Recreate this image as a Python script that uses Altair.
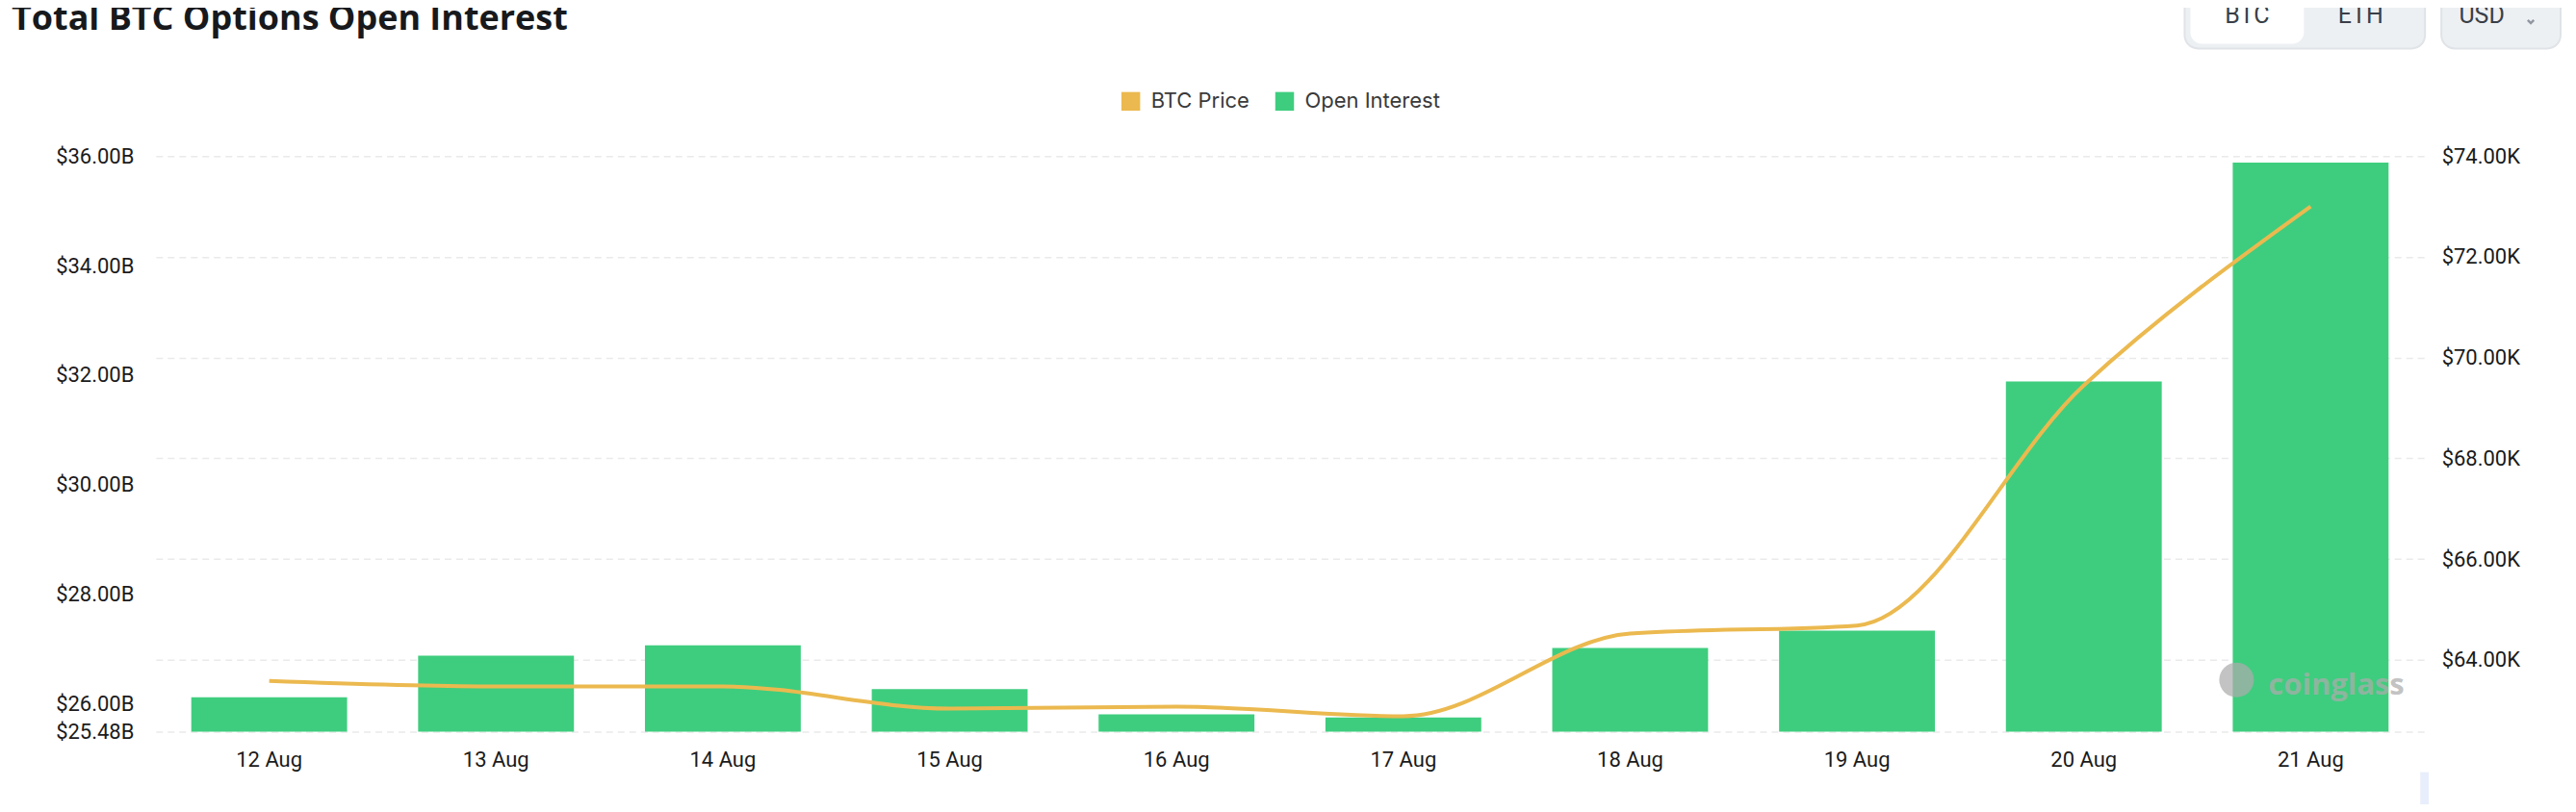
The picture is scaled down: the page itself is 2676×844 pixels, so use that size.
import altair as alt
import pandas as pd

# ---- data ----
dates = ["12 Aug", "13 Aug", "14 Aug", "15 Aug", "16 Aug",
         "17 Aug", "18 Aug", "19 Aug", "20 Aug", "21 Aug"]
open_interest_b = [26.11, 26.87, 27.06, 26.26, 25.80, 25.74, 27.01, 27.33, 31.88, 35.88]
btc_price_k = [63.58, 63.47, 63.47, 63.03, 63.07, 62.88, 64.52, 64.68, 69.45, 73.00]
oi_ticks = [25.48, 26, 28, 30, 32, 34, 36]
price_ticks = [62.57, 64, 66, 68, 70, 72, 74]
series_names = ["BTC Price", "Open Interest"]
title_text = ["Total BTC Options Open Interest"]

GREEN = "#3ECD7E"
ORANGE = "#EBB94F"
TEXT = "#1b1b1b"

df = pd.DataFrame({"date": dates, "oi": open_interest_b, "price": btc_price_k})

x_enc = alt.X(
    "date:N", sort=dates, title=None,
    scale=alt.Scale(paddingInner=0.313, paddingOuter=0.1565),
    axis=alt.Axis(labelAngle=0, domain=False, ticks=False, labelFontSize=22,
                  labelPadding=19, labelColor=TEXT, labelFont="Roboto"),
)

bars = alt.Chart(df).transform_calculate(series="'Open Interest'").mark_bar(color=GREEN).encode(
    x=x_enc,
    y=alt.Y("oi:Q",
            scale=alt.Scale(domain=[oi_ticks[0], oi_ticks[-1]], zero=False, nice=False),
            axis=alt.Axis(values=oi_ticks, labelExpr="'$' + format(datum.value, '.2f') + 'B'",
                          grid=False, domain=False, ticks=False, title=None,
                          labelFontSize=22, labelPadding=23, labelColor=TEXT,
                          labelFont="Roboto", labelOverlap=False)),
    y2=alt.datum(oi_ticks[0]),
    color=alt.Color("series:N",
                    scale=alt.Scale(domain=series_names, range=[ORANGE, GREEN]),
                    legend=alt.Legend(title=None, orient="none", legendX=1003, legendY=-68,
                                      direction="horizontal", symbolType="square",
                                      symbolSize=380, symbolStrokeWidth=0,
                                      labelFontSize=22, labelFont="Inter",
                                      labelColor="#3a3a3a", labelOffset=10,
                                      columnPadding=25, padding=0)),
)

line = alt.Chart(df).mark_line(color=ORANGE, strokeWidth=4, interpolate="monotone").encode(
    x=x_enc,
    y=alt.Y("price:Q",
            scale=alt.Scale(domain=[price_ticks[0], price_ticks[-1]], zero=False, nice=False),
            axis=alt.Axis(orient="right", values=price_ticks,
                          labelExpr="datum.value < 63 ? '' : '$' + format(datum.value, '.2f') + 'K'",
                          grid=True, gridColor="#EAEAEA", gridDash=[7, 5], gridWidth=1.5,
                          domain=False, ticks=False, title=None,
                          labelFontSize=22, labelPadding=18, labelColor=TEXT,
                          labelFont="Roboto", labelOverlap=False)),
)

one = pd.DataFrame({"t": title_text})

title = alt.Chart(one).mark_text(
    align="left", baseline="alphabetic", font="Open Sans", fontWeight="bold",
    fontSize=36, color="#17191c"
).encode(text="t:N", x=alt.value(-150), y=alt.value(-131))

# top-right UI controls
seg_bg = alt.Chart(one).mark_rect(fill="#EDF0F3", stroke="#E0E3E7", strokeWidth=2,
                                  cornerRadius=14).encode(
    x=alt.value(2110), x2=alt.value(2360), y=alt.value(-190), y2=alt.value(-112))
seg_btc = alt.Chart(one).mark_rect(fill="#FFFFFF", cornerRadius=12).encode(
    x=alt.value(2116), x2=alt.value(2234), y=alt.value(-190), y2=alt.value(-117))
usd_bg = alt.Chart(one).mark_rect(fill="#EDF0F3", stroke="#E0E3E7", strokeWidth=2,
                                  cornerRadius=14).encode(
    x=alt.value(2377), x2=alt.value(2501), y=alt.value(-190), y2=alt.value(-112))

def button_text(label, xpos):
    return alt.Chart(pd.DataFrame({"t": [label]})).mark_text(
        font="Roboto", fontSize=25, color="#3a3f47", align="center", baseline="alphabetic"
    ).encode(text="t:N", x=alt.value(xpos), y=alt.value(-138))

btc_txt = button_text("BTC", 2175)
eth_txt = button_text("ETH", 2293)
usd_txt = button_text("USD", 2419)

chev_up = alt.Chart(one).mark_point(shape="M-1,0.5L0,-0.5L1,0.5", filled=False,
                                    color="#6b7280", strokeWidth=2.5, size=40).encode(
    x=alt.value(2470), y=alt.value(-158))
chev_dn = alt.Chart(one).mark_point(shape="M-1,-0.5L0,0.5L1,-0.5", filled=False,
                                    color="#6b7280", strokeWidth=2.5, size=40).encode(
    x=alt.value(2470), y=alt.value(-140))

watermark = alt.Chart(pd.DataFrame({"t": ["coinglass"]})).mark_text(
    font="Open Sans", fontWeight="bold", fontSize=31, color="#ACACAC", opacity=0.72,
    align="left", baseline="middle"
).encode(text="t:N", x=alt.value(2197), y=alt.value(551))
logo = alt.Chart(one).mark_point(shape="circle", filled=True, color="#ACACAC",
                                 opacity=0.72, size=1300).encode(
    x=alt.value(2164), y=alt.value(545))

slider = alt.Chart(one).mark_rect(fill="#E8EEFB").encode(
    x=alt.value(2355), x2=alt.value(2364), y=alt.value(641), y2=alt.value(690))

chart = alt.layer(
    bars, line, title, seg_bg, seg_btc, usd_bg, btc_txt, eth_txt, usd_txt,
    chev_up, chev_dn, watermark, logo, slider
).resolve_scale(y="independent").properties(
    width=2359, height=599,
    padding={"left": 154, "top": 154, "right": 150, "bottom": 75},
    autosize=alt.AutoSizeParams(type="none"),
).configure_view(stroke=None)

chart.save("out.html", embed_options={"renderer": "svg", "actions": False})
